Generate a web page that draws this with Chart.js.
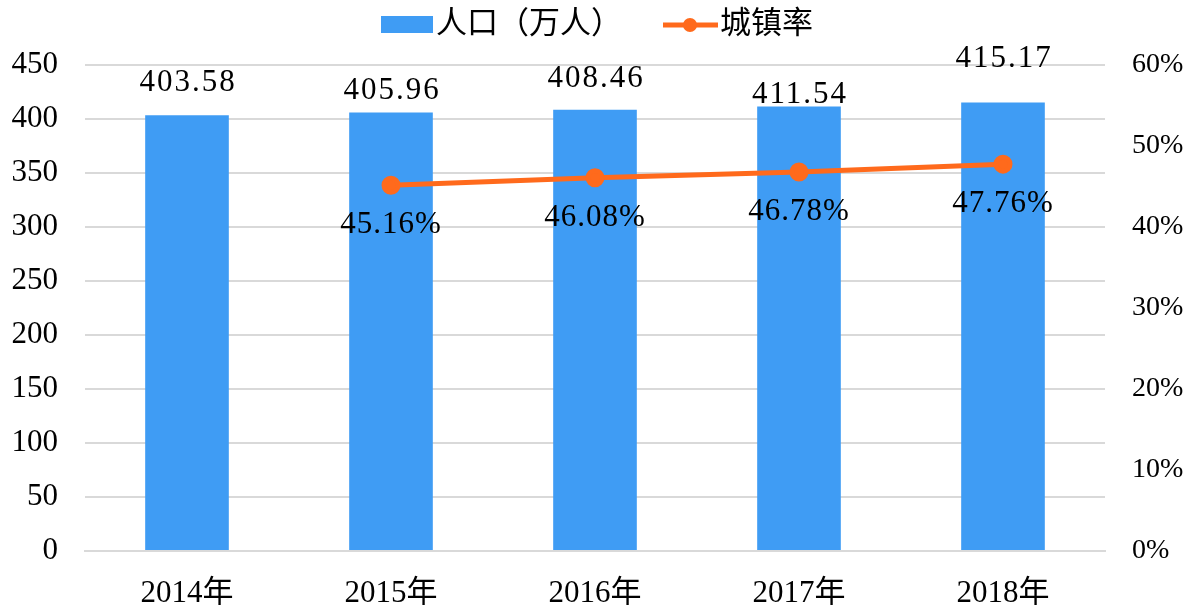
<!DOCTYPE html>
<html>
<head>
<meta charset="utf-8">
<script src="https://cdn.jsdelivr.net/npm/chart.js@4/dist/chart.umd.min.js"></script>
<style>
  html, body { margin: 0; padding: 0; background: #fff; }
  #wrap { width: 1184px; height: 605px; }
</style>
</head>
<body>
<div id="wrap"><canvas id="popChart" width="1184" height="605"></canvas></div>
<script>
const years = ['2014年', '2015年', '2016年', '2017年', '2018年'];
const population = [403.58, 405.96, 408.46, 411.54, 415.17];
const urbanRate = [null, 45.16, 46.08, 46.78, 47.76];
const popTicks = [0, 50, 100, 150, 200, 250, 300, 350, 400, 450];
const rateTicks = [0, 10, 20, 30, 40, 50, 60];

const BLUE = '#3F9CF4';
const ORANGE = '#FF6A1C';
const GRID = '#D9D9D9';
const FONT = '"Liberation Serif", "Noto Sans CJK SC", serif';

// label offsets (px above bar top) as placed in the original
const barLabelLift = [32, 22, 31, 12, 44];

const valueLabels = {
  id: 'valueLabels',
  afterDatasetsDraw(chart) {
    const ctx = chart.ctx;
    ctx.save();
    ctx.fillStyle = '#000';
    ctx.font = '31px ' + FONT;
    ctx.textAlign = 'center';
    ctx.textBaseline = 'middle';
    ctx.letterSpacing = '2px';

    chart.getDatasetMeta(0).data.forEach((bar, i) => {
      ctx.fillText(population[i].toFixed(2), bar.x + 1, bar.y - barLabelLift[i]);
    });

    ctx.letterSpacing = '1px';
    chart.getDatasetMeta(1).data.forEach((pt, i) => {
      if (urbanRate[i] === null) {
        return;
      }
      ctx.fillText(urbanRate[i].toFixed(2) + '%', pt.x, pt.y + 40);
    });
    ctx.restore();
  },
};

const topLegend = {
  id: 'topLegend',
  afterDraw(chart) {
    const ctx = chart.ctx;
    ctx.save();
    ctx.font = '31px ' + FONT;
    ctx.textBaseline = 'middle';
    ctx.fillStyle = BLUE;
    ctx.fillRect(381, 16, 52, 17);
    ctx.fillStyle = '#000';
    ctx.fillText('人口（万人）', 436, 25);

    ctx.strokeStyle = ORANGE;
    ctx.lineWidth = 5;
    ctx.beginPath();
    ctx.moveTo(663, 25);
    ctx.lineTo(718, 25);
    ctx.stroke();
    ctx.fillStyle = ORANGE;
    ctx.beginPath();
    ctx.arc(690, 25, 7, 0, Math.PI * 2);
    ctx.fill();
    ctx.fillStyle = '#000';
    ctx.fillText('城镇率', 720, 25);
    ctx.restore();
  },
};

new Chart(document.getElementById('popChart'), {
  data: {
    labels: years,
    datasets: [
      {
        type: 'bar',
        label: '人口（万人）',
        data: population,
        yAxisID: 'y',
        backgroundColor: BLUE,
        categoryPercentage: 1,
        barPercentage: 0.41,
        order: 1,
      },
      {
        type: 'line',
        label: '城镇率',
        data: urbanRate,
        yAxisID: 'y1',
        borderColor: ORANGE,
        backgroundColor: ORANGE,
        borderWidth: 5,
        pointRadius: 7,
        pointHoverRadius: 7,
        tension: 0,
        order: 0,
      },
    ],
  },
  options: {
    responsive: false,
    animation: false,
    layout: { padding: { top: 65, left: 0, right: 0, bottom: 0 } },
    plugins: {
      legend: { display: false },
      tooltip: { enabled: false },
    },
    scales: {
      x: {
        grid: { display: false },
        border: { display: true, color: GRID, width: 2 },
        ticks: {
          color: '#000',
          font: { family: FONT, size: 31 },
          padding: 16,
        },
        afterFit(scale) { scale.height = 54; },
      },
      y: {
        position: 'left',
        min: 0,
        max: 450,
        afterBuildTicks(scale) { scale.ticks = popTicks.map((v) => ({ value: v })); },
        grid: { color: GRID, lineWidth: 2, drawTicks: false },
        border: { display: false },
        ticks: {
          color: '#000',
          font: { family: FONT, size: 31 },
          padding: 27,
        },
        afterFit(scale) { scale.width = 85; },
      },
      y1: {
        position: 'right',
        min: 0,
        max: 60,
        afterBuildTicks(scale) { scale.ticks = rateTicks.map((v) => ({ value: v })); },
        grid: { display: false, drawTicks: false },
        border: { display: false },
        ticks: {
          color: '#000',
          font: { family: FONT, size: 28 },
          padding: 27,
          callback: (v) => v + '%',
        },
        afterFit(scale) { scale.width = 79; },
      },
    },
  },
  plugins: [valueLabels, topLegend],
});
</script>
</body>
</html>
